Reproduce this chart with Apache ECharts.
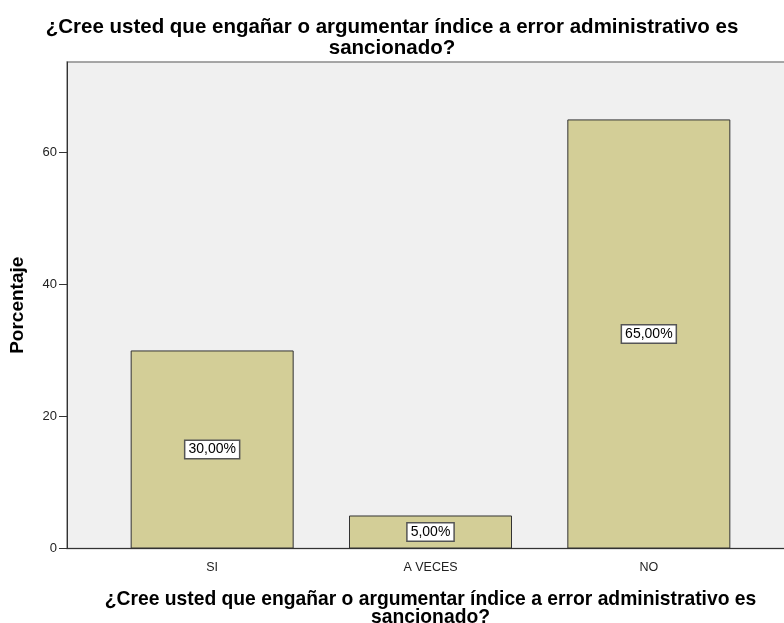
<!DOCTYPE html>
<html>
<head>
    <meta charset="utf-8" />
    <title>Porcentaje</title>
    <script src="https://cdn.jsdelivr.net/npm/echarts@6/dist/echarts.min.js"></script>
    <style>
        html, body { margin: 0; padding: 0; background: #fff; }
    </style>
</head>
<body>
    <div style="width:784px;height:623px;" id="echart"></div>
</body>
</html>
<script>
    var categorias = ['SI', 'A VECES', 'NO'];
    var porcentajes = [30, 5, 65];
    var yTicks = [0, 20, 40, 60];
    var titulo = '¿Cree usted que engañar o argumentar índice a error administrativo es\nsancionado?';

    var myChart = echarts.init(document.getElementById('echart'));

    var option = {
        animation: false,
        textStyle: { fontFamily: 'Liberation Sans, Arial, sans-serif' },
        title: {
            text: titulo,
            left: 'center',
            top: 12,
            textStyle: { fontSize: 20.5, fontWeight: 'bold', color: '#000', lineHeight: 21 }
        },
        // fondo gris del área del gráfico (se extiende fuera del borde derecho)
        graphic: [{
            type: 'rect',
            z: -10,
            shape: { x: 67, y: 62, width: 740, height: 486.5 },
            style: { fill: '#f0f0f0', stroke: '#8a8a8a', lineWidth: 1.5 }
        }, {
            type: 'line',
            z: -5,
            shape: { x1: 67, y1: 548.5, x2: 790, y2: 548.5 },
            style: { stroke: '#333', lineWidth: 1 }
        }],
        grid: { left: 103, right: 26, top: 62, bottom: 74.5, containLabel: false, outerBoundsMode: 'none' },
        xAxis: {
            type: 'category',
            data: categorias,
            name: titulo,
            nameLocation: 'middle',
            nameGap: 42,
            nameTextStyle: { fontSize: 19.3, fontWeight: 'bold', color: '#000', lineHeight: 18 },
            axisLine: { show: true, lineStyle: { color: '#333' } },
            axisTick: { alignWithLabel: true, length: 5, lineStyle: { color: '#333' } },
            axisLabel: { fontSize: 12.5, color: '#222', margin: 13 }
        },
        yAxis: {
            type: 'value',
            min: 0,
            max: 73.7,
            interval: 20,
            offset: 36,
            name: 'Porcentaje',
            nameLocation: 'middle',
            nameGap: 40,
            nameTextStyle: { fontSize: 19, fontWeight: 'bold', color: '#000' },
            axisLine: { show: true, lineStyle: { color: '#333' } },
            axisTick: { show: true, length: 8, customValues: yTicks, lineStyle: { color: '#333' } },
            axisLabel: { fontSize: 13, color: '#222', margin: 10, customValues: yTicks },
            splitLine: { show: false }
        },
        series: [{
            type: 'bar',
            data: porcentajes,
            barWidth: 163,
            itemStyle: { color: '#d3ce97', borderColor: '#333', borderWidth: 1 },
            label: {
                show: true,
                position: 'inside',
                formatter: function (p) { return p.value.toFixed(2).replace('.', ',') + '%'; },
                fontSize: 14,
                color: '#000',
                backgroundColor: '#fff',
                borderColor: '#555',
                borderWidth: 1.5,
                padding: [2, 3, 1, 3]
            }
        }]
    };
    myChart.setOption(option);
</script>
